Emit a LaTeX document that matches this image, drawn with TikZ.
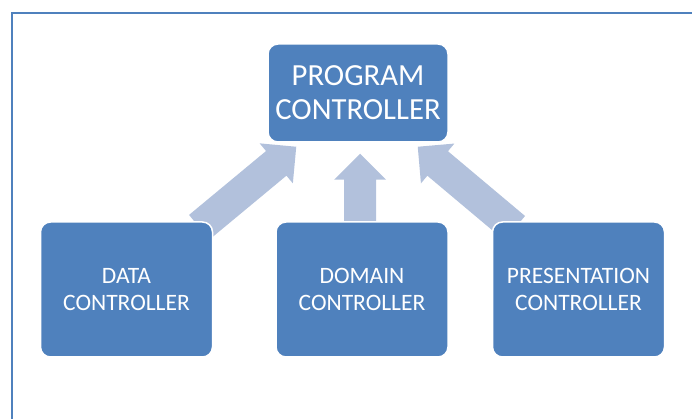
\documentclass[tikz,border=0pt]{standalone}
\usepackage{fontspec}
\setmainfont{Carlito}
\usetikzlibrary{positioning,calc,backgrounds}

\definecolor{boxblue}{RGB}{79,129,189}
\definecolor{arrowblue}{RGB}{178,193,220}

% block arrow from #1 to #2
\newcommand{\blockarrow}[2]{%
  \coordinate (#1-h) at ($(#2)!26pt!(#1)$);
  \fill[arrowblue] ($(#1)!16pt!90:(#2)$) -- ($(#1-h)!16pt!90:(#2)$)
    -- ($(#1-h)!26pt!90:(#2)$) -- (#2) -- ($(#1-h)!26pt!-90:(#2)$)
    -- ($(#1-h)!16pt!-90:(#2)$) -- ($(#1)!16pt!-90:(#2)$) -- cycle;
}

\begin{document}
\begin{tikzpicture}
[x=1pt,y=1pt,
 ctrl/.style={rectangle, rounded corners=10pt, fill=boxblue, draw=white,
   line width=1.5pt, text=white, align=center, minimum width=172pt,
   minimum height=135pt, font=\fontsize{23.5}{27}\selectfont},
 bigctrl/.style={ctrl, minimum width=180pt, minimum height=98pt,
   font=\fontsize{30.7}{34}\selectfont}]
\useasboundingbox (0,0) rectangle (692,419);
\clip (0,0) rectangle (692,419);

% frame
\draw [boxblue, line width=2pt] (11.5,-20) -- (11.5,405.5) -- (720,405.5);

% nodes
\node [bigctrl] (prog) at (358,326) {PROGRAM\\CONTROLLER};
\node [ctrl] (domain) at (362,129.5) {DOMAIN\\CONTROLLER};
\node [ctrl, left=62pt of domain] (data) {DATA\\CONTROLLER};
\node [ctrl, right=43pt of domain] (pres) {PRESENTATION\\CONTROLLER};

% arrow ends
\coordinate (tipL) at ($(prog.south west)+(29,-4)$);
\coordinate (tailL) at ($(data.north east)+(-14,-6)$);
\coordinate (tipM) at ($(prog.south)+(2,-11)$);
\coordinate (tailM) at ($(domain.north)+(-2,-7)$);
\coordinate (tipR) at ($(prog.south east)+(-31,-4)$);
\coordinate (tailR) at ($(pres.north west)+(23,-7)$);

% arrows
\begin{pgfonlayer}{background}
\blockarrow{tailL}{tipL}
\blockarrow{tailM}{tipM}
\blockarrow{tailR}{tipR}
\end{pgfonlayer}

\end{tikzpicture}
\end{document}
